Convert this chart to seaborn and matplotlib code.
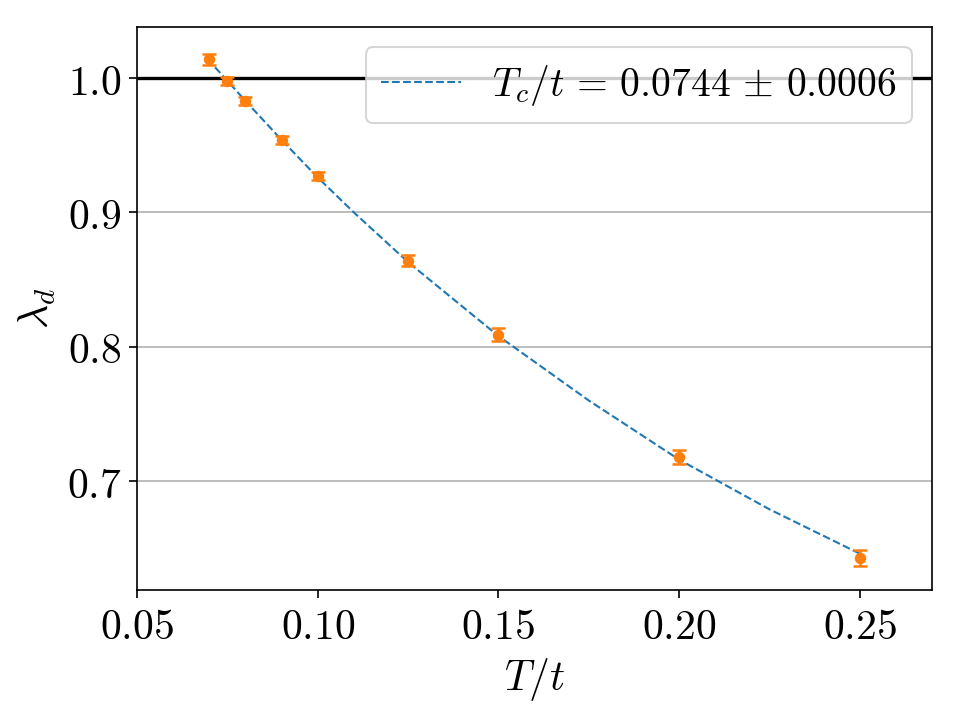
import matplotlib
matplotlib.use("Agg")
import matplotlib.pyplot as plt
from matplotlib.ticker import FuncFormatter, MultipleLocator
import seaborn as sns
import pandas as pd

# data
T_vals = [0.07, 0.075, 0.08, 0.09, 0.10, 0.125, 0.15, 0.20, 0.25]
lam_vals = [1.014, 0.998, 0.983, 0.954, 0.927, 0.864, 0.809, 0.718, 0.643]
lam_err = [0.004, 0.003, 0.003, 0.003, 0.003, 0.004, 0.005, 0.005, 0.006]

fit_T = [0.0716, 0.075, 0.08, 0.09, 0.10, 0.11, 0.125, 0.15, 0.175, 0.20, 0.225, 0.25]
fit_lam = [1.008, 0.998, 0.983, 0.954, 0.926, 0.900, 0.863, 0.808, 0.760, 0.716, 0.679, 0.646]
fit_label = r"$T_c/t\,=\,0.0744\,\pm\,0.0006$"

sns.set_style("ticks")
plt.rcParams["mathtext.fontset"] = "cm"
plt.rcParams["font.family"] = ["DejaVu Serif"]
for k in ["text.color", "axes.labelcolor", "xtick.color", "ytick.color", "axes.edgecolor"]:
    plt.rcParams[k] = "black"

fig, ax = plt.subplots(figsize=(6.4, 4.8), dpi=150)
fig.subplots_adjust(left=0.1427, right=0.971, bottom=0.1806, top=0.9625)

ax.yaxis.grid(True, color="#b0b0b0", linewidth=0.8)
ax.set_axisbelow(True)
ax.axhline(1.0, color="black", linewidth=1.6, zorder=1.5)

fit_df = pd.DataFrame({"T": fit_T, "lam": fit_lam})
sns.lineplot(data=fit_df, x="T", y="lam", ax=ax, color="C0", linestyle="--",
             linewidth=1.0, label=fit_label, zorder=2, sort=False)

ax.errorbar(T_vals, lam_vals, yerr=lam_err, fmt="o", color="C1", markersize=4.5,
            capsize=3.5, elinewidth=1.2, capthick=1.2, zorder=3)

ax.set_xlim(0.05, 0.27)
ax.set_ylim(0.619, 1.038)
ax.xaxis.set_major_locator(MultipleLocator(0.05))
ax.yaxis.set_major_locator(MultipleLocator(0.1))
ax.xaxis.set_major_formatter(FuncFormatter(lambda v, p: f"${v:.2f}$"))
ax.yaxis.set_major_formatter(FuncFormatter(lambda v, p: f"${v:.1f}$"))
ax.tick_params(labelsize=20, direction="out", length=4, width=0.8, colors="black")
for s in ax.spines.values():
    s.set_linewidth(0.8)
    s.set_color("black")

ax.set_xlabel(r"$T/t$", fontsize=20, color="black")
ax.set_ylabel(r"$\lambda_d$", fontsize=20, color="black")

leg = ax.legend(loc="upper right", fontsize=19, framealpha=0.8, handlelength=2.0)
for t in leg.get_texts():
    t.set_color("black")

fig.savefig("out.png", dpi=150)
